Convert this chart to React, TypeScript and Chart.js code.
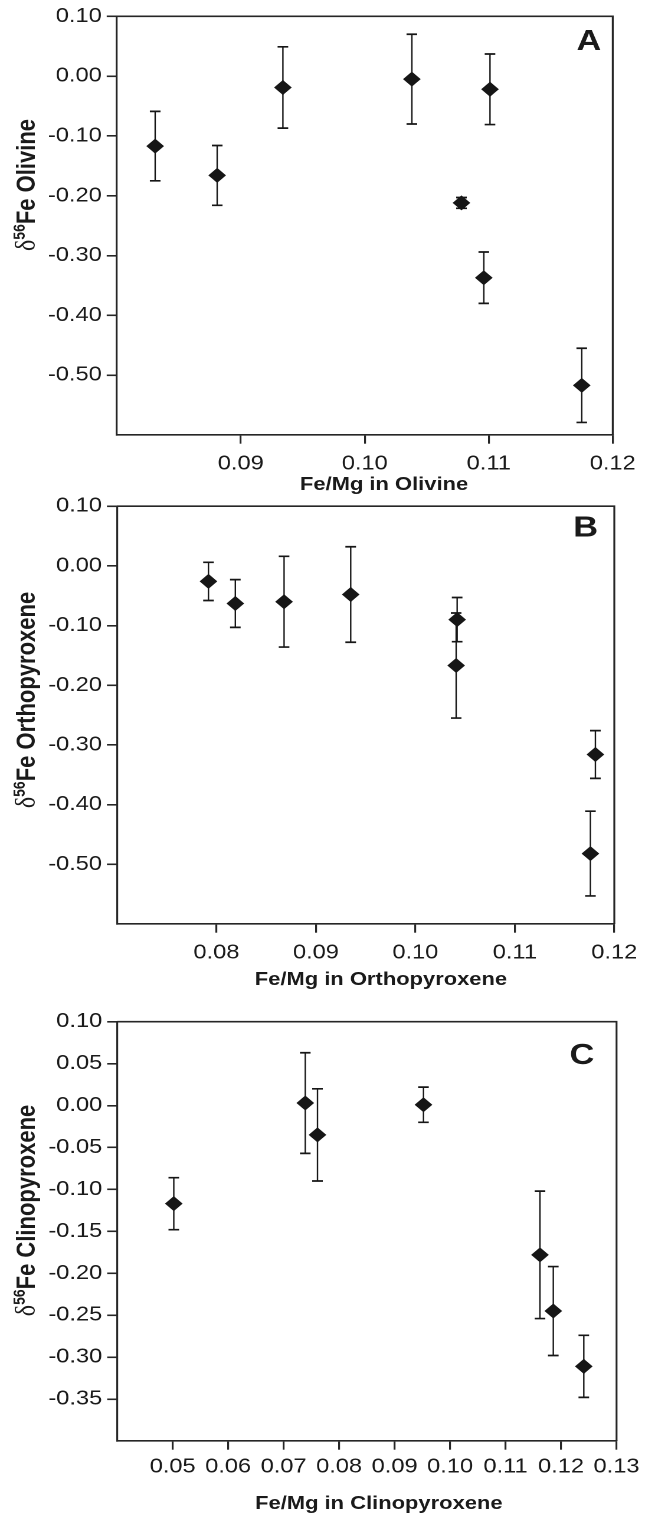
import React, { useEffect, useRef } from 'react';
import { Chart, registerables } from 'chart.js';

Chart.register(...registerables);

// ---------- data ----------
// Panel A: olivine
const olivineFeMg = [0.0831, 0.0881, 0.0934, 0.1038, 0.1101, 0.1078, 0.1096, 0.1175];
const olivineD56Fe = [-0.117, -0.166, -0.019, -0.005, -0.022, -0.212, -0.337, -0.517];
const olivineErr = [0.058, 0.050, 0.068, 0.075, 0.059, 0.009, 0.043, 0.062];
const olivineXTicks = [0.09, 0.10, 0.11, 0.12];
const olivineYTicks = [0.10, 0.0, -0.10, -0.20, -0.30, -0.40, -0.50];

// Panel B: orthopyroxene
const opxFeMg = [0.0792, 0.0819, 0.0868, 0.0935, 0.1042, 0.1041, 0.1181, 0.1176];
const opxD56Fe = [-0.026, -0.063, -0.060, -0.048, -0.090, -0.167, -0.316, -0.482];
const opxErr = [0.032, 0.040, 0.076, 0.080, 0.037, 0.088, 0.040, 0.071];
const opxXTicks = [0.08, 0.09, 0.10, 0.11, 0.12];
const opxYTicks = [0.10, 0.0, -0.10, -0.20, -0.30, -0.40, -0.50];

// Panel C: clinopyroxene
const cpxFeMg = [0.0502, 0.0739, 0.0761, 0.0952, 0.1162, 0.1186, 0.1241];
const cpxD56Fe = [-0.117, 0.003, -0.035, 0.001, -0.178, -0.245, -0.311];
const cpxErr = [0.031, 0.060, 0.055, 0.021, 0.076, 0.053, 0.037];
const cpxXTicks = [0.05, 0.06, 0.07, 0.08, 0.09, 0.10, 0.11, 0.12, 0.13];
const cpxYTicks = [0.10, 0.05, 0.0, -0.05, -0.10, -0.15, -0.20, -0.25, -0.30, -0.35];

// ---------- layout / style ----------
const LW = 555; // logical canvas width
const S = 655 / LW; // horizontal stretch of the figure
const MARK = '#161616';
const AXIS = '#262626';
const TEXT = '#1a1a1a';
const FAM = "'Liberation Sans', Arial, Helvetica, sans-serif";

type Panel = {
  letter: string;
  x: number[];
  y: number[];
  err: number[];
  xTicks: number[];
  yTicks: number[];
  xMin: number; xMax: number; yMin: number; yMax: number;
  xTitle: string;
  yTitle: string;
  top: number;
  height: number;
  area: { left: number; right: number; top: number; bottom: number };
  xTickPad: number;
  letterPos: [number, number];
  xTitlePos: [number, number];
  yTitlePos: [number, number];
};

const panels: Panel[] = [
  {
    letter: 'A', x: olivineFeMg, y: olivineD56Fe, err: olivineErr,
    xTicks: olivineXTicks, yTicks: olivineYTicks,
    xMin: 0.08, xMax: 0.12, yMin: -0.6, yMax: 0.1,
    xTitle: 'Fe/Mg in Olivine', yTitle: 'Fe Olivine',
    top: 0, height: 500,
    area: { left: 98.9, right: 519.2, top: 16.3, bottom: 435 },
    xTickPad: 8.5,
    letterPos: [499, 42], xTitlePos: [325.4, 485], yTitlePos: [29.7, 185],
  },
  {
    letter: 'B', x: opxFeMg, y: opxD56Fe, err: opxErr,
    xTicks: opxXTicks, yTicks: opxYTicks,
    xMin: 0.07, xMax: 0.12, yMin: -0.6, yMax: 0.1,
    xTitle: 'Fe/Mg in Orthopyroxene', yTitle: 'Fe Orthopyroxene',
    top: 490, height: 510,
    area: { left: 99.1, right: 520.5, top: 13.3, bottom: 434 },
    xTickPad: 8.5,
    letterPos: [496.2, 38.3], xTitlePos: [322.8, 489.7], yTitlePos: [29.7, 210],
  },
  {
    letter: 'C', x: cpxFeMg, y: cpxD56Fe, err: cpxErr,
    xTicks: cpxXTicks, yTicks: cpxYTicks,
    xMin: 0.04, xMax: 0.13, yMin: -0.4, yMax: 0.1,
    xTitle: 'Fe/Mg in Clinopyroxene', yTitle: 'Fe Clinopyroxene',
    top: 995, height: 521,
    area: { left: 99.3, right: 522.4, top: 26.7, bottom: 446 },
    xTickPad: 5.2,
    letterPos: [493.1, 61.2], xTitlePos: [321, 509], yTitlePos: [29.7, 215.5],
  },
];

const fmt = (v: number) => (Math.abs(v) < 1e-9 ? 0 : v).toFixed(2);

function drawYTitle(ctx: CanvasRenderingContext2D, x: number, yc: number, text: string) {
  const pieces = [
    { t: 'δ', font: `normal 24px 'Liberation Serif', serif`, dy: 0 },
    { t: '56', font: `bold 14px ${FAM}`, dy: -8.5 },
    { t: text, font: `bold 22px ${FAM}`, dy: 0 },
  ];
  ctx.save();
  ctx.translate(x, yc);
  ctx.rotate(-Math.PI / 2);
  ctx.fillStyle = TEXT;
  ctx.textBaseline = 'alphabetic';
  ctx.textAlign = 'left';
  let total = 0;
  const widths = pieces.map((p) => {
    ctx.font = p.font;
    const w = ctx.measureText(p.t).width;
    total += w;
    return w;
  });
  let cx = -total / 2;
  pieces.forEach((p, i) => {
    ctx.font = p.font;
    ctx.fillText(p.t, cx, p.dy);
    cx += widths[i];
  });
  ctx.restore();
}

function PanelChart({ p }: { p: Panel }) {
  const ref = useRef<HTMLCanvasElement | null>(null);

  useEffect(() => {
    const canvas = ref.current;
    if (!canvas) return;

    const errorBars = {
      id: 'errorBars',
      beforeDatasetsDraw(chart: any) {
        const { ctx } = chart;
        const xs = chart.scales.x;
        const ys = chart.scales.y;
        ctx.save();
        ctx.strokeStyle = MARK;
        p.x.forEach((xv, i) => {
          const e = p.err[i];
          if (!e) return;
          const px = xs.getPixelForValue(xv);
          const t = ys.getPixelForValue(p.y[i] + e);
          const b = ys.getPixelForValue(p.y[i] - e);
          ctx.lineWidth = 1.2;
          ctx.beginPath();
          ctx.moveTo(px, t);
          ctx.lineTo(px, b);
          ctx.stroke();
          ctx.lineWidth = 1.7;
          ctx.beginPath();
          ctx.moveTo(px - 4.5, t);
          ctx.lineTo(px + 4.5, t);
          ctx.moveTo(px - 4.5, b);
          ctx.lineTo(px + 4.5, b);
          ctx.stroke();
        });
        ctx.restore();
      },
    };

    const frame = {
      id: 'frameAndText',
      afterDraw(chart: any) {
        const { ctx, chartArea } = chart;
        ctx.save();
        ctx.strokeStyle = AXIS;
        ctx.lineWidth = 1.6;
        ctx.beginPath();
        ctx.moveTo(chartArea.left, chartArea.top);
        ctx.lineTo(chartArea.right, chartArea.top);
        ctx.lineTo(chartArea.right, chartArea.bottom);
        ctx.stroke();

        ctx.fillStyle = TEXT;
        ctx.textAlign = 'center';
        ctx.textBaseline = 'middle';
        ctx.font = `bold 29px ${FAM}`;
        ctx.fillText(p.letter, p.letterPos[0], p.letterPos[1]);

        ctx.font = `bold 18.6px ${FAM}`;
        ctx.fillText(p.xTitle, p.xTitlePos[0], p.xTitlePos[1]);
        ctx.restore();

        drawYTitle(ctx, p.yTitlePos[0], p.yTitlePos[1], p.yTitle);
      },
    };

    const chart = new Chart(canvas, {
      type: 'scatter',
      data: {
        datasets: [
          {
            data: p.x.map((xv, i) => ({ x: xv, y: p.y[i] })),
            pointStyle: 'rectRot',
            pointRadius: 7.5,
            pointHoverRadius: 7.5,
            backgroundColor: MARK,
            borderColor: MARK,
            borderWidth: 0,
          },
        ],
      },
      options: {
        responsive: false,
        animation: false,
        devicePixelRatio: 2,
        events: [],
        layout: {
          padding: { left: 0, right: LW - p.area.right, top: p.area.top, bottom: 0 },
        },
        plugins: { legend: { display: false }, tooltip: { enabled: false } },
        scales: {
          x: {
            type: 'linear',
            position: 'bottom',
            min: p.xMin,
            max: p.xMax,
            afterBuildTicks: (s: any) => {
              s.ticks = p.xTicks.map((v) => ({ value: v }));
            },
            afterFit: (s: any) => {
              s.height = p.height - p.area.bottom;
            },
            ticks: {
              autoSkip: false,
              maxRotation: 0,
              minRotation: 0,
              padding: p.xTickPad,
              color: TEXT,
              font: { family: FAM, size: 20 },
              callback: (v: any) => fmt(Number(v)),
            },
            grid: {
              drawOnChartArea: false,
              drawTicks: true,
              tickLength: 8.7,
              lineWidth: 1.6,
              color: AXIS,
            },
            border: { display: true, width: 1.6, color: AXIS },
          },
          y: {
            type: 'linear',
            position: 'left',
            min: p.yMin,
            max: p.yMax,
            afterBuildTicks: (s: any) => {
              s.ticks = p.yTicks.map((v) => ({ value: v }));
            },
            afterFit: (s: any) => {
              s.width = p.area.left;
            },
            ticks: {
              autoSkip: false,
              padding: 4.2,
              color: TEXT,
              font: { family: FAM, size: 20 },
              callback: (v: any) => fmt(Number(v)),
            },
            grid: {
              drawOnChartArea: false,
              drawTicks: true,
              tickLength: 8.5,
              lineWidth: 1.6,
              color: AXIS,
            },
            border: { display: true, width: 1.6, color: AXIS },
          },
        },
      } as any,
      plugins: [errorBars, frame],
    });

    return () => chart.destroy();
  }, [p]);

  return (
    <div
      style={{
        position: 'absolute',
        left: 0,
        top: p.top,
        width: LW,
        height: p.height,
        transform: `scaleX(${S})`,
        transformOrigin: 'left top',
      }}
    >
      <canvas
        ref={ref}
        width={LW}
        height={p.height}
        style={{ display: 'block', width: LW, height: p.height }}
      />
    </div>
  );
}

export default function App() {
  return (
    <div
      style={{
        position: 'absolute',
        left: 0,
        top: 0,
        width: 655,
        height: 1516,
        overflow: 'hidden',
        background: '#ffffff',
      }}
    >
      {panels.map((p) => (
        <PanelChart key={p.letter} p={p} />
      ))}
    </div>
  );
}
